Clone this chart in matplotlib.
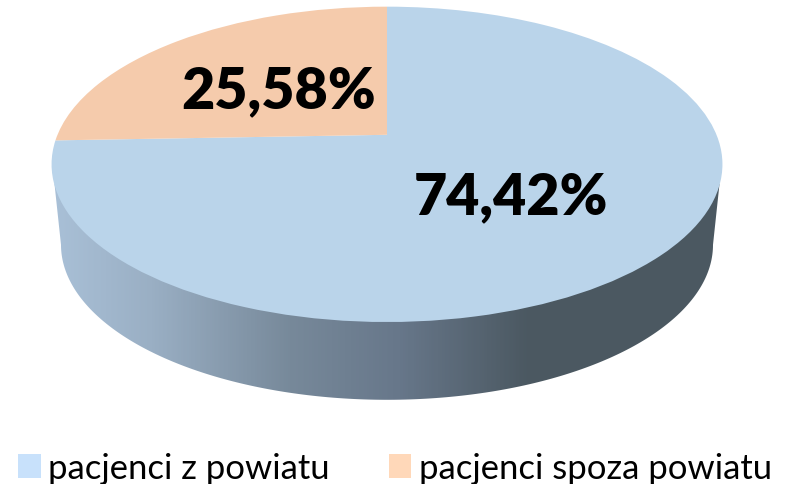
import numpy as np
from matplotlib import pyplot as plt
from matplotlib.colors import LinearSegmentedColormap
from matplotlib.patches import Patch, PathPatch
from matplotlib.path import Path
from matplotlib.transforms import Transform

categories = ['pacjenci z powiatu', 'pacjenci spoza powiatu']
values = [74.42, 25.58]
label_pos = [(511, 214), (279, 108)]

top_colors = ['#BAD4EA', '#F5CBAC']
legend_colors = ['#C8E1FB', '#FFD8B9']
rim_x = [52, 150, 290, 400, 530, 723]
rim_colors = ['#A9C0D7', '#9AAFC4', '#77899A', '#67778A', '#4B5861', '#4C5962']

plt.rcParams['font.family'] = ['Lato', 'DejaVu Sans']


class PerspectiveTransform(Transform):
    # tilted disc, unit circle to pixel coords
    input_dims = 2
    output_dims = 2
    is_affine = False
    cx, cy, k, a, c = 387.0, 135.8, 329.5, -126.7, 0.1873

    def transform_non_affine(self, xy):
        xy = np.asarray(xy, dtype=float)
        w = 1 + self.c * xy[:, 1]
        return np.column_stack([self.cx + self.k * xy[:, 0] / w, (self.cy + self.a * xy[:, 1]) / w])


fig = plt.figure(figsize=(7.92, 4.85), dpi=100)
ax = fig.add_axes([0, 0, 1, 1])

wedges, _ = ax.pie(values, colors=top_colors, startangle=90, counterclock=False,
                   wedgeprops={'linewidth': 0})
persp = PerspectiveTransform()
for wedge in wedges:
    wedge.set_transform(persp + ax.transData)
    wedge.set_zorder(3)

# side wall of the disc
theta = np.linspace(np.pi, 0, 200)
wall_x = 387 + 326 * np.cos(theta)
wall_y = 245.8 + 155 * np.sin(theta)
wall = np.column_stack([np.r_[54.5, wall_x, 719.5], np.r_[185, wall_y, 185]])
wall_patch = PathPatch(Path(np.vstack([wall, wall[0]]), closed=True), fc='none', lw=0, transform=ax.transData)
ax.add_patch(wall_patch)

stops = [(x - rim_x[0]) / (rim_x[-1] - rim_x[0]) for x in rim_x]
cmap = LinearSegmentedColormap.from_list('rim', list(zip(stops, rim_colors)))
img = ax.imshow(np.linspace(0, 1, 400).reshape(1, -1), cmap=cmap, extent=(52, 723, 402, 160),
                aspect='auto', interpolation='bilinear', zorder=2)
img.set_clip_path(wall_patch)

for value, (x, y) in zip(values, label_pos):
    ax.text(x, y, f'{value:.2f}%'.replace('.', ','), ha='center', va='baseline',
            fontsize=41.2, fontweight='heavy', color='black', zorder=4)

handles = [Patch(color=c, lw=0) for c in legend_colors]
ax.legend(handles, categories, loc='lower left', bbox_to_anchor=(18 / 792, 0), ncols=2, frameon=False,
          fontsize=24.9, handlelength=0.66, handleheight=0.68, handletextpad=0.22,
          columnspacing=1.69, borderpad=0, borderaxespad=0)

ax.set_xlim(0, 792)
ax.set_ylim(485, 0)
ax.set_aspect('auto')
ax.axis('off')

fig.savefig('out.png', dpi=100)
plt.close(fig)
